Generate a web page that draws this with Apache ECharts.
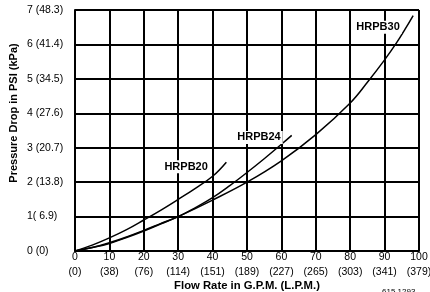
<!DOCTYPE html>
<html>
<head>
<meta charset="utf-8">
<script src="https://cdn.jsdelivr.net/npm/echarts@6/dist/echarts.min.js"></script>
<style>
  html, body { margin: 0; padding: 0; background: #fff; }
  #chart { width: 430px; height: 292px; }
</style>
</head>
<body>
<div id="chart"></div>
<script>
// flow rate in GPM (x), pressure drop in PSI (y)
const hrpb20X = [0, 5, 10, 15, 20, 25, 30, 35, 40, 44]
const hrpb20Y = [0, 0.17, 0.38, 0.62, 0.9, 1.19, 1.5, 1.82, 2.17, 2.58]

const hrpb24X = [0, 5, 10, 15, 20, 25, 30, 35, 40, 45, 50, 55, 60, 63]
const hrpb24Y = [0, 0.1, 0.24, 0.41, 0.6, 0.8, 1.0, 1.26, 1.55, 1.9, 2.28, 2.68, 3.1, 3.36]

const hrpb30X = [0, 5, 10, 15, 20, 25, 30, 40, 50, 60, 70, 80, 85, 90, 93.5, 96, 98.3]
const hrpb30Y = [0, 0.1, 0.22, 0.39, 0.58, 0.79, 1.0, 1.48, 2.0, 2.62, 3.38, 4.3, 4.9, 5.55, 6.05, 6.45, 6.84]

const xTicks = ['0\n(0)', '10\n(38)', '20\n(76)', '30\n(114)', '40\n(151)', '50\n(189)',
  '60\n(227)', '70\n(265)', '80\n(303)', '90\n(341)', '100\n(379)']
const yTicks = ['0 (0)', '1( 6.9)', '2 (13.8)', '3 (20.7)', '4 (27.6)', '5 (34.5)', '6 (41.4)', '7 (48.3)']

// label anchor points (data space)
const labelPos = [[32.3, 2.45], [53.5, 3.3], [88.1, 6.5]]

const zip = (xs, ys) => xs.map((x, i) => [x, ys[i]])

const font = 'Liberation Sans, Arial, sans-serif'

const chart = echarts.init(document.getElementById('chart'), null, { renderer: 'canvas' })

const lineSeries = (name, xs, ys, idx) => ({
  name,
  type: 'line',
  data: zip(xs, ys),
  smooth: 0.4,
  symbol: 'none',
  lineStyle: { color: '#000', width: 1.5 },
  z: 3,
  markPoint: {
    symbol: 'rect',
    symbolSize: 0,
    silent: true,
    data: [{ coord: labelPos[idx], value: name }],
    label: {
      show: true,
      position: 'inside',
      formatter: name,
      color: '#000',
      fontFamily: font,
      fontWeight: 'bold',
      fontSize: 11,
      backgroundColor: '#fff',
      padding: [1, 2]
    }
  }
})

chart.setOption({
  animation: false,
  grid: { left: 75, right: 11, top: 10, bottom: 41, outerBoundsMode: 'none', containLabel: false },
  title: {
    text: '615 1293',
    left: 377,
    top: 283,
    textStyle: { fontFamily: font, fontSize: 8, fontWeight: 'normal', color: '#000' }
  },
  xAxis: {
    type: 'value',
    min: 0,
    max: 100,
    interval: 10,
    name: 'Flow Rate in G.P.M. (L.P.M.)',
    nameLocation: 'middle',
    nameGap: 29,
    nameMoveOverlap: false,
    nameTextStyle: {
      fontFamily: font, fontWeight: 'bold', fontSize: 11.3, color: '#000'
    },
    axisLine: { lineStyle: { color: '#000', width: 2 } },
    axisTick: { show: false },
    axisLabel: {
      color: '#000',
      fontFamily: font,
      fontSize: 10.5,
      lineHeight: 15,
      margin: -1,
      formatter: v => xTicks[Math.round(v / 10)]
    },
    splitLine: { lineStyle: { color: '#000', width: 2 } }
  },
  yAxis: {
    type: 'value',
    min: 0,
    max: 7,
    interval: 1,
    name: 'Pressure Drop in PSI (kPa)',
    nameLocation: 'middle',
    nameRotate: 90,
    nameGap: 56,
    nameMoveOverlap: false,
    nameTextStyle: {
      fontFamily: font, fontWeight: 'bold', fontSize: 11, color: '#000',
      padding: [0, 0, 0, 35]
    },
    axisLine: { show: true, lineStyle: { color: '#000', width: 2 } },
    axisTick: { show: false },
    axisLabel: {
      color: '#000',
      fontFamily: font,
      fontSize: 10.5,
      align: 'left',
      margin: 48,
      formatter: v => yTicks[v]
    },
    splitLine: { lineStyle: { color: '#000', width: 2 } }
  },
  series: [
    lineSeries('HRPB20', hrpb20X, hrpb20Y, 0),
    lineSeries('HRPB24', hrpb24X, hrpb24Y, 1),
    lineSeries('HRPB30', hrpb30X, hrpb30Y, 2)
  ]
})
</script>
</body>
</html>
